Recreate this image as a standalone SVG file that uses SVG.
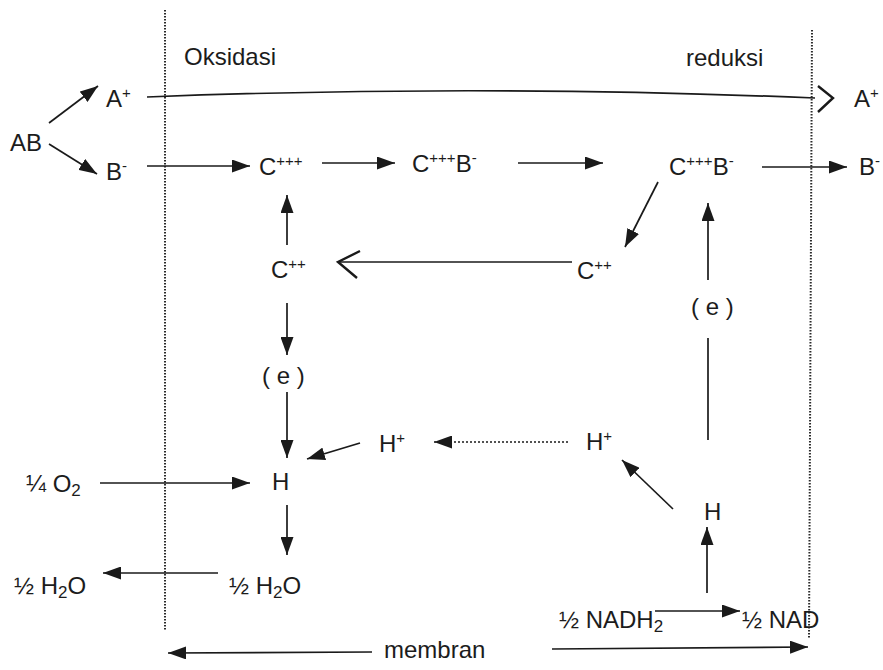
<svg xmlns="http://www.w3.org/2000/svg" width="883" height="670" viewBox="0 0 883 670">
  <style>
    text { font-family: "Liberation Sans", Arial, sans-serif; font-size: 24px; fill: #1c1c1c; }
    .sup { font-size: 15px; }
    .sub { font-size: 17px; }
    .ln { stroke: #1a1a1a; stroke-width: 1.7; fill: none; }
    .arr { stroke: #1a1a1a; stroke-width: 1.7; fill: none; marker-end: url(#ah); }
    .dot { stroke: #1a1a1a; stroke-width: 1.7; fill: none; stroke-dasharray: 2 2; }
    .mem { stroke: #2a2a2a; stroke-width: 2; fill: none; stroke-dasharray: 1.5 1.5; }
    .open { stroke: #1a1a1a; stroke-width: 2.4; fill: none; stroke-linejoin: miter; }
  </style>
  <defs>
    <marker id="ah" viewBox="0 0 18 13" refX="18" refY="6.5" markerWidth="18" markerHeight="13" orient="auto" markerUnits="userSpaceOnUse">
      <path d="M0,0 L18,6.5 L0,13 z" fill="#1a1a1a"/>
    </marker>
  </defs>
  <rect width="883" height="670" fill="#ffffff"/>

  <!-- membrane boundaries -->
  <g id="membranes">
    <line class="mem" x1="165" y1="10" x2="165" y2="630"/>
    <line class="mem" x1="812" y1="30" x2="809" y2="638"/>
  </g>

  <!-- side headings -->
  <g id="headings">
    <text x="184" y="65">Oksidasi</text>
    <text x="686" y="66">reduksi</text>
  </g>

  <!-- connectors -->
  <g id="connectors">
    <line class="arr" x1="49" y1="123" x2="98" y2="86"/>
    <line class="arr" x1="49" y1="144" x2="97" y2="174"/>
    <path class="ln" d="M147,97 Q480,84 815,98"/>
    <polyline class="open" points="818,86 833,98 818,112"/>
    <line class="arr" x1="147" y1="166" x2="250" y2="166"/>
    <line class="arr" x1="322" y1="163" x2="395" y2="163"/>
    <line class="arr" x1="518" y1="163" x2="603" y2="163"/>
    <line class="arr" x1="762" y1="167" x2="847" y2="167"/>
    <line class="arr" x1="287" y1="245" x2="287" y2="195"/>
    <line class="arr" x1="658" y1="182" x2="625" y2="247"/>
    <line class="ln" x1="572" y1="262" x2="338" y2="262"/>
    <polyline class="open" points="360,251 338,262 357,278"/>
    <line class="arr" x1="708" y1="280" x2="708" y2="203"/>
    <line class="ln" x1="708" y1="338" x2="708" y2="440"/>
    <line class="arr" x1="287" y1="303" x2="287" y2="355"/>
    <line class="arr" x1="287" y1="392" x2="287" y2="458"/>
    <line class="arr" x1="360" y1="443" x2="307" y2="459"/>
    <line class="dot" x1="568" y1="442" x2="434" y2="442" marker-end="url(#ah)"/>
    <line class="arr" x1="673" y1="509" x2="622" y2="460"/>
    <line class="arr" x1="707" y1="593" x2="707" y2="527"/>
    <line class="arr" x1="655" y1="611" x2="740" y2="611"/>
    <line class="arr" x1="100" y1="483" x2="250" y2="483"/>
    <line class="arr" x1="287" y1="505" x2="287" y2="555"/>
    <line class="arr" x1="218" y1="573" x2="103" y2="573"/>
    <line class="arr" x1="372" y1="652" x2="168" y2="653"/>
    <line class="arr" x1="552" y1="649" x2="808" y2="647"/>
  </g>

  <!-- species -->
  <g id="node-AB"><text x="10" y="151">AB</text></g>
  <g id="node-Aplus-out"><text x="106" y="107">A<tspan class="sup" dy="-9">+</tspan></text></g>
  <g id="node-Bminus-out"><text x="106" y="180">B<tspan class="sup" dy="-9">-</tspan></text></g>
  <g id="node-C3"><text x="259" y="175">C<tspan class="sup" dy="-9">+++</tspan></text></g>
  <g id="node-C3B-mid"><text x="412" y="172">C<tspan class="sup" dy="-9">+++</tspan><tspan dy="9">B</tspan><tspan class="sup" dy="-9">-</tspan></text></g>
  <g id="node-C3B-right"><text x="669" y="175">C<tspan class="sup" dy="-9">+++</tspan><tspan dy="9">B</tspan><tspan class="sup" dy="-9">-</tspan></text></g>
  <g id="node-Bminus-in"><text x="859" y="175">B<tspan class="sup" dy="-9">-</tspan></text></g>
  <g id="node-Aplus-in"><text x="854" y="107">A<tspan class="sup" dy="-9">+</tspan></text></g>
  <g id="node-C2-left"><text x="271" y="278">C<tspan class="sup" dy="-9">++</tspan></text></g>
  <g id="node-C2-right"><text x="577" y="279">C<tspan class="sup" dy="-9">++</tspan></text></g>
  <g id="node-e-left"><text x="262" y="384">( e )</text></g>
  <g id="node-e-right"><text x="691" y="315">( e )</text></g>
  <g id="node-Hplus-left"><text x="379" y="452">H<tspan class="sup" dy="-9">+</tspan></text></g>
  <g id="node-Hplus-right"><text x="586" y="450">H<tspan class="sup" dy="-9">+</tspan></text></g>
  <g id="node-H-left"><text x="272" y="490">H</text></g>
  <g id="node-H-right"><text x="704" y="520">H</text></g>
  <g id="node-O2"><text x="26" y="492">¼ O<tspan class="sub" dy="4">2</tspan></text></g>
  <g id="node-H2O-in"><text x="229" y="594">½ H<tspan class="sub" dy="4">2</tspan><tspan dy="-4">O</tspan></text></g>
  <g id="node-H2O-out"><text x="14" y="594">½ H<tspan class="sub" dy="4">2</tspan><tspan dy="-4">O</tspan></text></g>
  <g id="node-NADH2"><text x="559" y="628">½ NADH<tspan class="sub" dy="4">2</tspan></text></g>
  <g id="node-NAD"><text x="742" y="628">½ NAD</text></g>
  <g id="node-membran"><text x="384" y="658">membran</text></g>
</svg>
